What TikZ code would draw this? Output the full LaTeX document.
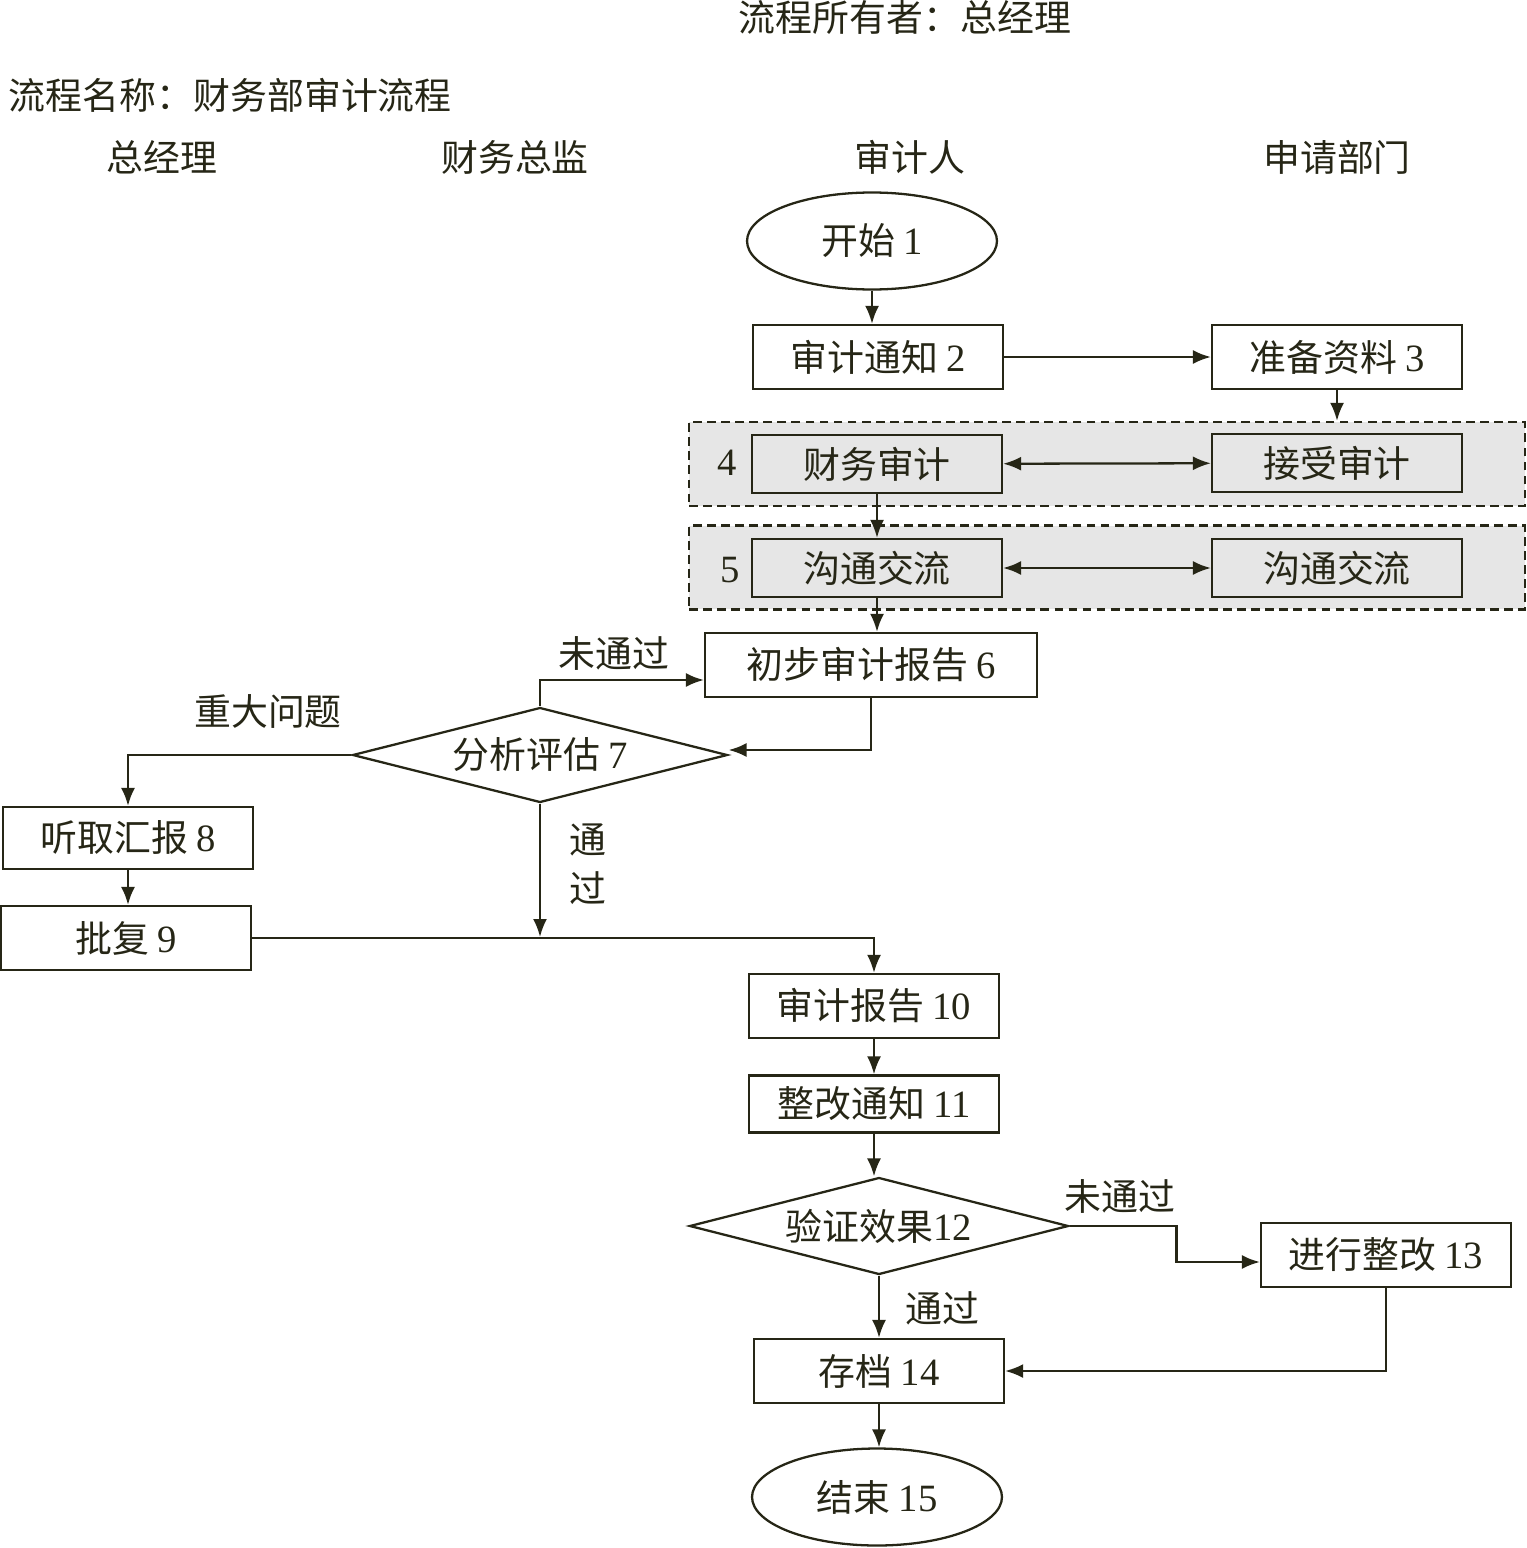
\documentclass[tikz,border=0pt]{standalone}
\usepackage{fontspec}
\setmainfont{Liberation Serif}
\newfontfamily\cjk{Noto Sans CJK SC}
\usetikzlibrary{arrows.meta,shapes.geometric}
\definecolor{ink}{RGB}{38,38,22}
\definecolor{shade}{RGB}{230,230,230}
\newcommand{\arw}{-{Latex[length=3.6mm,width=2.8mm]}}
\newcommand{\dbl}{{Latex[length=3.6mm,width=2.8mm]}-{Latex[length=3.6mm,width=2.8mm]}}
\newcommand{\nr}[1]{{\rmfamily\fontsize{22}{25}\selectfont #1}}

\begin{document}
\begin{tikzpicture}[x=0.02cm,y=-0.02cm,line width=1.3pt,draw=ink,text=ink,
  every node/.style={font=\cjk\fontsize{21}{25}\selectfont,text=ink},
  box/.style={draw=ink,rectangle,minimum width=5cm,minimum height=1.28cm,inner sep=0pt},
  sbox/.style={box,fill=shade,minimum height=1.16cm},
  oval/.style={draw=ink,ellipse,minimum width=5cm,minimum height=1.94cm,inner sep=0pt},
  test/.style={draw=ink,diamond,aspect=4,minimum width=7.5cm,minimum height=1.9cm,inner sep=0pt},
  group/.style={draw=ink,fill=shade,dash pattern=on 5pt off 3pt,minimum width=16.72cm,minimum height=1.68cm,inner sep=0pt}]
\useasboundingbox (0,0) rectangle (1526,1548);
% titles and lanes
\node (owner) at (905,18) {流程所有者：总经理};
\node[anchor=west] (pname) at (2,95) {流程名称：财务部审计流程};
\node (lane1) at (162,157) {总经理};
\node (lane2) at (515,157) {财务总监};
\node (lane3) at (910,157) {审计人};
\node (lane4) at (1337,157) {申请部门};
% dashed groups
\node[group] (g4) at (1107,464) {};
\node[group] (g5) at (1107,567.5) {};
\node (n4) at (727,463) {\nr{4}};
\node (n5) at (730,570) {\nr{5}};
% steps
\node[oval] (s1) at (872,241) {开始 \nr{1}};
\node[box] (s2) at (878,357) {审计通知 \nr{2}};
\node[box] (s3) at (1337,357) {准备资料 \nr{3}};
\node[sbox] (s4a) at (877,464) {财务审计};
\node[sbox] (s4b) at (1337,463) {接受审计};
\node[sbox] (s5a) at (877,568) {沟通交流};
\node[sbox] (s5b) at (1337,568) {沟通交流};
\node[box,minimum width=6.64cm] (s6) at (871,665) {初步审计报告 \nr{6}};
\node[test] (s7) at (540,755) {分析评估 \nr{7}};
\node[box,minimum height=1.24cm] (s8) at (128,838) {听取汇报 \nr{8}};
\node[box] (s9) at (126,938) {批复 \nr{9}};
\node[box] (s10) at (874,1006) {审计报告 \nr{10}};
\node[box,minimum height=1.14cm] (s11) at (874,1104) {整改通知 \nr{11}};
\node[test,minimum width=7.58cm,minimum height=1.94cm] (s12) at (879,1226) {验证效果\nr{12}};
\node[box] (s13) at (1386,1255) {进行整改 \nr{13}};
\node[box] (s14) at (879,1371) {存档 \nr{14}};
\node[oval] (s15) at (877,1497) {结束 \nr{15}};
\coordinate (join) at (540,937);
% connectors
\draw[\arw] (s1) -- (s1 |- s2.north);
\draw[\arw] (s2) -- (s3);
\draw[\arw] (s3.south) -- (s3.south |- g4.north);
\draw[\dbl] (s4a) -- (s4b);
\draw[\arw] (s4a) -- (s4a |- s5a.north);
\draw[\dbl] (s5a) -- (s5b);
\draw[\arw] (s5a) -- (s5a |- s6.north);
\draw[\arw] (s6.south) |- ([yshift=0.1cm]s7.east);
\draw[\arw] (s7.north) |- ([yshift=-0.3cm]s6.west);
\draw[\arw] (s7.west) -| (s8.north);
\draw[\arw] (s8) -- (s8 |- s9.north);
\draw[\arw] (s7.south) -- (join);
\draw[\arw] (s9.east) -| (s10.north);
\draw[\arw] (s10) -- (s11);
\draw[\arw] (s11) -- (s11 |- s12.north);
\draw[\arw] (s12.east) -- ++(107,0) |- ([yshift=-0.14cm]s13.west);
\draw[\arw] (s12.south) -- (s12.south |- s14.north);
\draw[\arw] (s13.south) |- (s14.east);
\draw[\arw] (s14) -- (s14 |- s15.north);
% labels
\node (no1) at (614,653) {未通过};
\node (big) at (268,711) {重大问题};
\node (pass1) at (588,840) {通};
\node (pass1b) at (588,888) {过};
\node (no2) at (1120,1196) {未通过};
\node (pass2) at (942,1308) {通过};
\end{tikzpicture}
\end{document}
